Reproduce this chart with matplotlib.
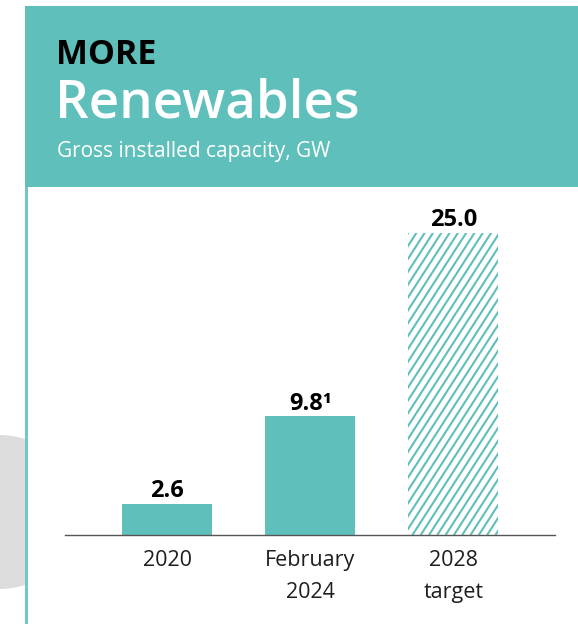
import matplotlib
matplotlib.use('Agg')
import matplotlib.pyplot as plt
import numpy as np
from matplotlib.patches import Rectangle, Circle
from matplotlib.transforms import IdentityTransform, Bbox

# data
categories = ['2020', 'February\n2024', '2028\ntarget']
values = [2.6, 9.8, 25.0]
value_labels = ['2.6', '9.8\u00b9', '25.0']
is_target = [False, False, True]

teal = '#5fbfba'
W, H = 578, 624

plt.rcParams['font.family'] = ['Open Sans', 'DejaVu Sans']

fig = plt.figure(figsize=(W / 100, H / 100), dpi=100)


def fx(px):
    return px / W


def fy(py):
    return 1 - py / H


# gray decoration at left edge (pixel coords, clipped at the rule)
circ = Circle((0, H - 512), 77, transform=IdentityTransform(),
              facecolor='#dcdcdc', edgecolor='none', zorder=0)
circ.set_clip_box(Bbox([[0, 0], [26, H]]))
fig.patches.append(circ)

# header box and left rule
fig.patches.append(Rectangle((fx(25), fy(187)), fx(553), (187 - 6) / H,
                             transform=fig.transFigure, facecolor=teal,
                             edgecolor='none', zorder=1))
fig.patches.append(Rectangle((fx(25), 0), fx(3), fy(187),
                             transform=fig.transFigure, facecolor='#72c8c4',
                             edgecolor='none', zorder=1))

fig.text(fx(56), fy(64), 'MORE', fontsize=24.5, fontweight='bold', color='black',
         va='baseline', ha='left')
fig.text(fx(55), fy(118), 'Renewables', fontsize=38, fontweight='semibold',
         color='white', va='baseline', ha='left')
fig.text(fx(57), fy(157), 'Gross installed capacity, GW', fontsize=15,
         color='white', va='baseline', ha='left')

# chart
ax = fig.add_axes([fx(65), fy(535), fx(490), (535 - 200) / H])
ax.set_xlim(-0.713, 2.71)
ax.set_ylim(0, 27.7)

# pixels per data unit, for the steep hatch lines
px_x = 490 / (2.71 + 0.713)
px_y = 335 / 27.7
slope = 1.55  # dy/dx in pixels

for i, v in enumerate(values):
    if is_target[i]:
        bar = ax.bar(i, v, width=0.63, facecolor='white', linewidth=0)[0]
        x0, w = bar.get_x(), bar.get_width()
        run = v * px_y / slope / px_x
        step = 8.3 / px_x
        for s in np.arange(x0 - run, x0 + w + step, step):
            ln, = ax.plot([s, s + run], [0, v], color=teal, lw=1.5,
                          solid_capstyle='butt')
            ln.set_clip_path(bar)
    else:
        ax.bar(i, v, width=0.63, color=teal)
    ax.annotate(value_labels[i], (i, v), xytext=(0, 5),
                textcoords='offset points', ha='center', va='baseline',
                fontsize=17, fontweight='bold', color='black')

ax.set_xticks(range(len(values)))
ax.set_xticklabels(categories, fontsize=15.5, color='#1e1e1e', linespacing=1.7)
ax.tick_params(axis='x', length=0, pad=11)
ax.set_yticks([])
for s in ['top', 'right', 'left']:
    ax.spines[s].set_visible(False)
ax.spines['bottom'].set_color('#555555')
ax.spines['bottom'].set_linewidth(1)
ax.patch.set_alpha(0)

fig.savefig('out.png', dpi=100)
